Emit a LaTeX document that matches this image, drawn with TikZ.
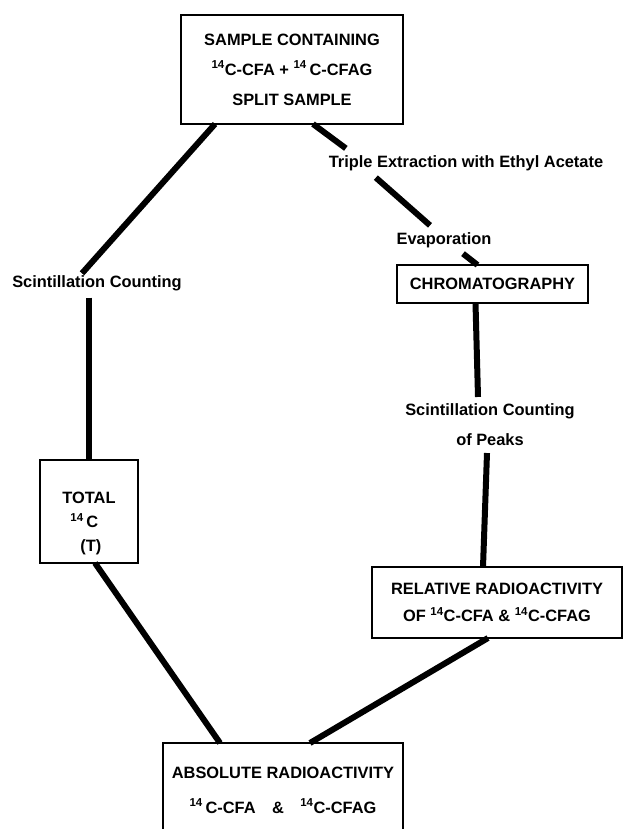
\documentclass[tikz,border=0pt]{standalone}
\usepackage{fontspec}
\setmainfont{Liberation Sans}
\usetikzlibrary{calc}
\newcommand{\iso}{\textsuperscript{14}}

\begin{document}
\begin{tikzpicture}[
    x=1pt, y=-1pt,
    every node/.style={font=\fontsize{16.4}{30}\selectfont\bfseries, inner sep=0pt, outer sep=0pt},
    box/.style={draw, line width=2.6pt, align=center},
    lbl/.style={align=center},
    conn/.style={line width=6pt}
  ]
    \useasboundingbox (0,0) rectangle (624,829);

    % boxes
    \node[box, minimum width=222pt, minimum height=109pt] (top) at (292,69.5)
      {SAMPLE CONTAINING\\\iso C-CFA + \iso\,C-CFAG\\SPLIT SAMPLE};
    \node[box, align=left, minimum width=98pt, minimum height=103pt,
      font=\fontsize{16.4}{24}\selectfont\bfseries] (total) at (89,511.5)
      {\rule{0pt}{36pt}TOTAL\\\hspace*{8pt}\iso\,C\\\hspace*{18pt}(T)};
    \node[box, minimum width=191pt, minimum height=38pt] (chrom) at (492.5,284) {CHROMATOGRAPHY};
    \node[box, minimum width=250pt, minimum height=71pt,
      font=\fontsize{16.4}{27}\selectfont\bfseries] (rel) at (497,602.5)
      {RELATIVE RADIOACTIVITY\\OF \iso C-CFA \& \iso C-CFAG};
    \node[box, minimum width=240pt, minimum height=94pt,
      font=\fontsize{16.4}{35}\selectfont\bfseries] (abs) at (283,790)
      {ABSOLUTE RADIOACTIVITY\\\iso\,C-CFA\quad\&\quad\iso C-CFAG};

    % step labels
    \node[lbl] (scl) at (97,283) {Scintillation Counting};
    \node[lbl] (tri) at (466,163) {Triple Extraction with Ethyl Acetate};
    \node[lbl] (evap) at (444,240) {Evaporation};
    \node[lbl] (scp) at (490,425) {Scintillation Counting\\of Peaks};

    % left branch
    \draw[conn] ([xshift=34pt]top.south west) -- ([xshift=-15pt,yshift=2pt]scl.north);
    \draw[conn] ($(scl.south -| total.north)+(0,7)$) -- (total.north);
    \draw[conn] ([xshift=6pt]total.south) -- ([xshift=57pt]abs.north west);

    % right branch
    \draw[conn] ([xshift=-90pt]top.south east) -- ([xshift=17pt,yshift=7pt]tri.north west);
    \draw[conn] ([xshift=47pt,yshift=-7pt]tri.south west) -- ([xshift=-14pt,yshift=7pt]evap.north);
    \draw[conn] ([xshift=19pt,yshift=-6pt]evap.south) -- ([xshift=-15pt]chrom.north);
    \draw[conn] ([xshift=-17pt]chrom.south) -- ([xshift=-12pt,yshift=7pt]scp.north);
    \draw[conn] ([xshift=-3pt,yshift=-7pt]scp.south) -- ([xshift=-14pt]rel.north);
    \draw[conn] ([xshift=-9pt]rel.south) -- ([xshift=-93pt]abs.north east);
  \end{tikzpicture}
\end{document}
